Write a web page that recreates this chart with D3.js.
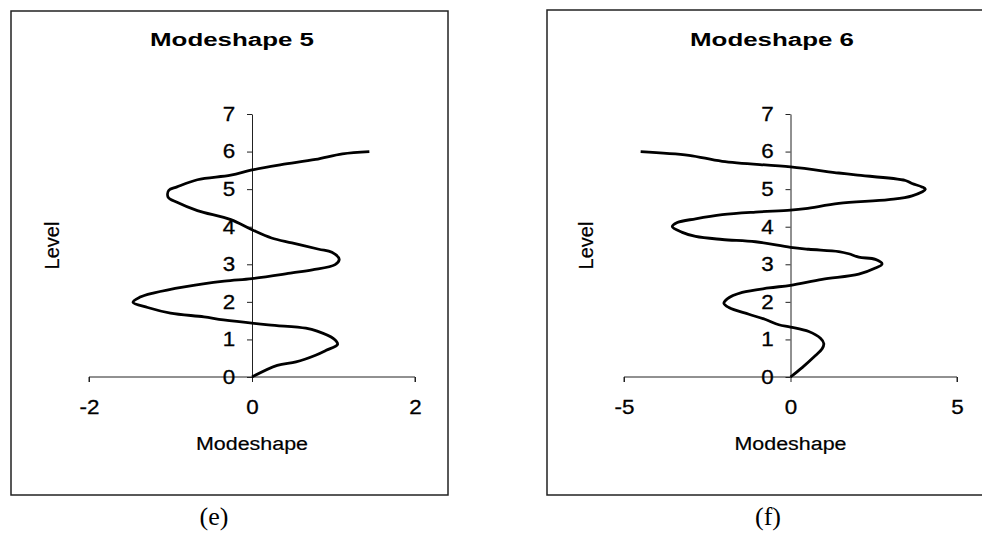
<!DOCTYPE html>
<html>
<head>
<meta charset="utf-8">
<script src="https://cdn.jsdelivr.net/npm/d3@7"></script>
<style>
  body { margin: 0; background: #fff; }
  svg { display: block; }
  .axis path, .axis line { stroke: #222; stroke-width: 1; }
  .axis text { font-family: "Liberation Sans", Arial, sans-serif; font-size: 20px; fill: #000; stroke: #000; stroke-width: 0.3; }
  .chart-title { font-family: "Liberation Sans", Arial, sans-serif; font-weight: bold; font-size: 18px; fill: #000; }
  .axis-title { font-family: "Liberation Sans", Arial, sans-serif; font-size: 18px; fill: #000; stroke: #000; stroke-width: 0.2; }
  .panel-label { font-family: "Liberation Serif", "Times New Roman", serif; font-size: 26px; fill: #000; }
</style>
</head>
<body>
<svg id="fig"></svg>
<script>
// Modeshape 5
const level5 = [0, 0.31, 0.4, 0.58, 0.71, 0.87, 1.02, 1.22, 1.3, 1.39, 1.52, 1.6, 1.7, 1.85, 1.99,
  2.12, 2.24, 2.4, 2.55, 2.62, 2.77, 2.85, 2.99, 3.13, 3.32, 3.4, 3.57, 3.7, 3.92, 4.19, 4.43, 4.65,
  4.79, 4.97, 5.06, 5.25, 5.37, 5.51, 5.65, 5.79, 5.94, 6.0];
const shape5 = [0, 0.31, 0.54, 0.78, 0.91, 1.05, 1.0, 0.8, 0.66, 0.2, -0.35, -0.59, -1.0, -1.28, -1.46,
  -1.38, -1.2, -0.83, -0.34, 0, 0.49, 0.74, 1.02, 1.07, 0.98, 0.82, 0.49, 0.24, 0, -0.26, -0.67, -0.92,
  -1.03, -1.02, -0.92, -0.67, -0.26, 0, 0.36, 0.78, 1.11, 1.44];

// Modeshape 6
const level6 = [0, 0.25, 0.57, 0.75, 0.89, 1.03, 1.21, 1.33, 1.39, 1.53, 1.67, 1.85, 1.96, 2.08, 2.25,
  2.37, 2.44, 2.6, 2.74, 2.9, 3.01, 3.13, 3.19, 3.28, 3.34, 3.4, 3.45, 3.6, 3.66, 3.74, 3.85, 4.0,
  4.11, 4.21, 4.32, 4.39, 4.44, 4.48, 4.62, 4.72, 4.82, 5.0, 5.06, 5.15, 5.23, 5.38, 5.43, 5.59,
  5.74, 5.9, 6.0];
const shape6 = [0, 0.35, 0.75, 0.95, 1.0, 0.9, 0.55, 0, -0.35, -0.75, -1.25, -1.85, -2.0, -1.9, -1.45,
  -0.65, 0, 0.95, 2.05, 2.55, 2.75, 2.55, 2.05, 1.75, 1.45, 0.55, 0, -1.05, -2.05, -2.85, -3.25, -3.55,
  -3.4, -2.85, -2.05, -1.05, 0, 0.45, 1.45, 2.95, 3.65, 4.05, 3.95, 3.65, 3.45, 1.95, 1.45, 0,
  -2.05, -3.05, -4.5];

const levelTicks = [0, 1, 2, 3, 4, 5, 6, 7];
const shapeTicks5 = [-2, 0, 2];
const shapeTicks6 = [-5, 0, 5];

// the scanned figure is a bit wider than tall, so text gets stretched sideways
const stretch = 1.12;

class ModeshapeChart {

  constructor(_config, _levels, _shapes, _title, _xlabel, _ylabel, _tag) {
    this.config = {
      parentElement: _config.parentElement,
      box: _config.box,
      xRange: _config.xRange,
      yRange: _config.yRange || [377, 114],
      xDomain: _config.xDomain,
      xTicks: _config.xTicks,
      titleX: _config.titleX,
      tagX: _config.tagX,
      levelX: _config.levelX
    }
    this.data = _levels.map((l, i) => ({level: l, shape: _shapes[i]}));
    this.title = _title;
    this.xlabel = _xlabel;
    this.ylabel = _ylabel;
    this.tag = _tag;
    this.initVis();
  }

  initVis() {
    let vis = this;
    let b = vis.config.box;

    vis.svg = d3.select(vis.config.parentElement);
    vis.g = vis.svg.append('g');

    // frame around the panel
    vis.g.append('rect')
        .attr('x', b.x).attr('y', b.y)
        .attr('width', b.w).attr('height', b.h)
        .attr('fill', 'none')
        .attr('stroke', '#222')
        .attr('stroke-width', 1.5);

    vis.xScale = d3.scaleLinear()
        .domain(vis.config.xDomain)
        .range(vis.config.xRange);

    vis.yScale = d3.scaleLinear()
        .domain([0, 7])
        .range(vis.config.yRange);

    vis.xAxis = d3.axisBottom(vis.xScale)
        .tickValues(vis.config.xTicks)
        .tickFormat(d => String(d))
        .tickSize(5)
        .tickSizeOuter(0)
        .tickPadding(18);

    vis.yAxis = d3.axisLeft(vis.yScale)
        .tickValues(levelTicks)
        .tickFormat(d => String(d))
        .tickSize(5)
        .tickSizeOuter(0)
        .tickPadding(10);

    vis.renderVis();
  }

  renderVis() {
    let vis = this;

    // axes cross at 0,0
    vis.g.append('g')
        .attr('class', 'axis x-axis')
        .attr('transform', `translate(0,${vis.yScale(0)})`)
        .call(vis.xAxis)
        .call(g => g.select('.domain').attr('d', `M${vis.config.xRange[0]},5V0H${vis.config.xRange[1]}V5`))
        .call(g => g.selectAll('.tick text').attr('transform', `scale(${stretch},1)`));

    vis.g.append('g')
        .attr('class', 'axis y-axis')
        .attr('transform', `translate(${vis.xScale(0)},0)`)
        .call(vis.yAxis)
        .call(g => g.selectAll('.tick text').attr('transform', `scale(${stretch},1)`));

    let line = d3.line()
        .curve(d3.curveCatmullRom.alpha(0.5))
        .x(d => vis.xScale(d.shape))
        .y(d => vis.yScale(d.level));

    vis.g.append('path')
        .datum(vis.data)
        .attr('fill', 'none')
        .attr('stroke', '#000')
        .attr('stroke-width', 2.8)
        .attr('stroke-linejoin', 'round')
        .attr('d', line);

    vis.g.append('text')
        .attr('class', 'chart-title')
        .attr('x', vis.config.titleX - 82)
        .attr('y', 46)
        .attr('textLength', 164)
        .attr('lengthAdjust', 'spacingAndGlyphs')
        .text(vis.title);

    vis.g.append('text')
        .attr('class', 'axis-title')
        .attr('x', vis.xScale(0) - 56)
        .attr('y', 450)
        .attr('textLength', 112)
        .attr('lengthAdjust', 'spacingAndGlyphs')
        .text(vis.xlabel);

    vis.g.append('text')
        .attr('class', 'axis-title')
        .attr('transform', `translate(${vis.config.levelX},${vis.yScale(3.5)}) rotate(-90)`)
        .style('text-anchor', 'middle')
        .style('font-size', '20px')
        .text(vis.ylabel);

    vis.g.append('text')
        .attr('class', 'panel-label')
        .attr('x', vis.config.tagX)
        .attr('y', 525)
        .style('text-anchor', 'middle')
        .text(vis.tag);
  }
}

d3.select('#fig').attr('width', 982).attr('height', 533);

new ModeshapeChart({
  parentElement: '#fig',
  box: {x: 11, y: 11, w: 437, h: 484},
  xDomain: [-2, 2],
  xRange: [89, 415],
  xTicks: shapeTicks5,
  titleX: 232,
  tagX: 214,
  levelX: 59
}, level5, shape5, 'Modeshape 5', 'Modeshape', 'Level', '(e)');

new ModeshapeChart({
  parentElement: '#fig',
  box: {x: 547, y: 10, w: 437, h: 485},
  xDomain: [-5, 5],
  xRange: [624, 957],
  xTicks: shapeTicks6,
  titleX: 772,
  tagX: 768,
  levelX: 593
}, level6, shape6, 'Modeshape 6', 'Modeshape', 'Level', '(f)');
</script>
</body>
</html>
